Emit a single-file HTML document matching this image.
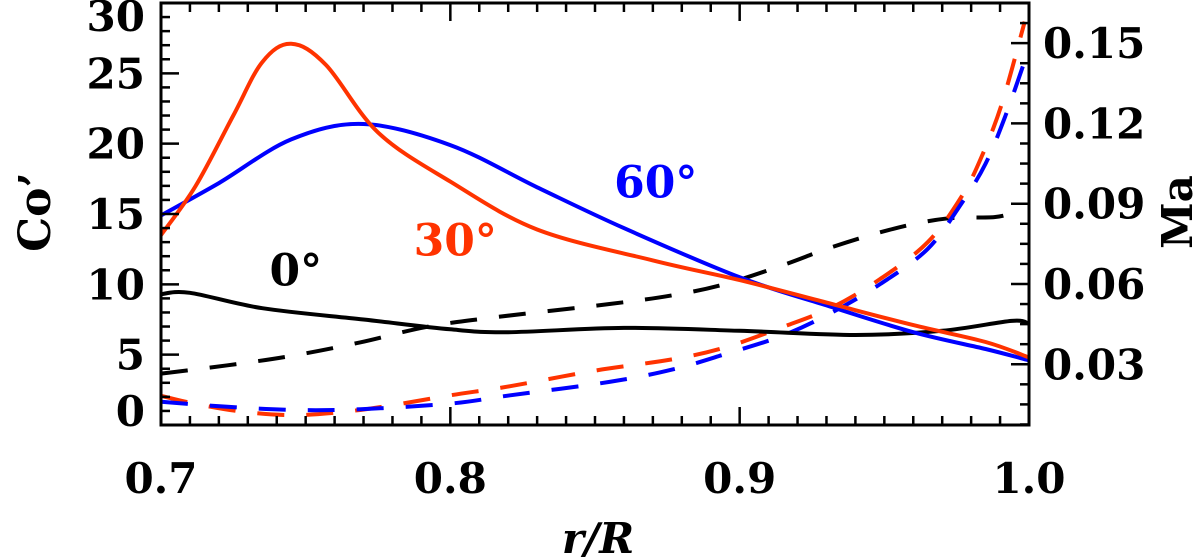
<!DOCTYPE html>
<html><head><meta charset="utf-8"><style>
html,body{margin:0;padding:0;background:#fff;}
svg{display:block;}
text{font-family:"DejaVu Serif","Liberation Serif",serif;font-weight:bold;}
</style></head><body>
<svg id="chart" width="1200" height="560" viewBox="0 0 1200 560"></svg>
<script>
const redSolidR=[0.7,0.712,0.725,0.735,0.745,0.757,0.775,0.8,0.83,0.87,0.9,0.93,0.96,0.985,1.0];
const redSolidV=[13.5,17,22,25.8,27.1,25.6,20.8,17.3,13.9,11.7,10.3,8.7,7.1,5.9,4.8];
const blueSolidR=[0.7,0.72,0.745,0.77,0.8,0.83,0.86,0.9,0.93,0.96,0.985,1.0];
const blueSolidV=[14.9,17.2,20.3,21.4,19.9,16.9,14.0,10.5,8.5,6.6,5.4,4.6];
const blackSolidR=[0.7,0.71,0.735,0.77,0.8,0.82,0.86,0.9,0.94,0.97,0.994,1.0];
const blackSolidV=[9.3,9.4,8.3,7.5,6.8,6.6,6.9,6.7,6.4,6.7,7.4,7.2];
const blackDashR=[0.7,0.723,0.746,0.769,0.792,0.815,0.855,0.877,0.895,0.9146,0.932,0.953,0.971,0.988,0.994];
const blackDashM=[0.0265,0.0296,0.0333,0.0382,0.044,0.0475,0.0525,0.0558,0.06,0.0669,0.0738,0.0806,0.0844,0.085,0.0865];
const redDashR=[0.7,0.7115,0.7287,0.746,0.763,0.78,0.8,0.8207,0.8494,0.877,0.895,0.9146,0.932,0.9486,0.965,0.9766,0.9838,0.9908,0.9985];
const redDashM=[0.0182,0.0153,0.0122,0.011,0.0122,0.0147,0.0184,0.0218,0.0275,0.0319,0.0363,0.0438,0.0513,0.0619,0.0756,0.0925,0.108,0.128,0.158];
const blueDashR=[0.7,0.723,0.746,0.769,0.8,0.8207,0.855,0.877,0.895,0.9146,0.932,0.9486,0.965,0.9766,0.985,0.992,1.0];
const blueDashM=[0.016,0.0141,0.0129,0.0132,0.0153,0.0184,0.0234,0.0281,0.0338,0.0406,0.0494,0.06,0.0731,0.09,0.105,0.1233,0.148];
const xTicks=[0.7,0.8,0.9,1.0];
const xTickLabels=["0.7","0.8","0.9","1.0"];
const yLeftTicks=[0,5,10,15,20,25,30];
const yRightTicks=[0.03,0.06,0.09,0.12,0.15];
const yRightLabels=["0.03","0.06","0.09","0.12","0.15"];

const L=161,R=1029,T=3,B=425;
const X0=0.7,X1=1.0,YL0=0,YL1=30,YR0=0.0073,YR1=0.165;
const sx=v=>L+(v-X0)/(X1-X0)*(R-L);
const syL=v=>B-(v-YL0)/(YL1-YL0)*(B-T);
const syR=v=>B-(v-YR0)/(YR1-YR0)*(B-T);
const svg=document.getElementById('chart');
const NS='http://www.w3.org/2000/svg';
function mk(tag,attrs,parent){const e=document.createElementNS(NS,tag);for(const k in attrs)e.setAttribute(k,attrs[k]);(parent||svg).appendChild(e);return e;}
function pathFrom(xs,ys){
  const p=xs.map((x,i)=>[x,ys[i]]);
  let d='M'+p[0][0].toFixed(1)+','+p[0][1].toFixed(1);
  for(let i=0;i<p.length-1;i++){
    const p0=p[i-1]||p[i],p1=p[i],p2=p[i+1],p3=p[i+2]||p[i+1];
    const c1=[p1[0]+(p2[0]-p0[0])/6,p1[1]+(p2[1]-p0[1])/6];
    const c2=[p2[0]-(p3[0]-p1[0])/6,p2[1]-(p3[1]-p1[1])/6];
    d+=' C'+c1.map(v=>v.toFixed(1)).join(',')+' '+c2.map(v=>v.toFixed(1)).join(',')+' '+p2[0].toFixed(1)+','+p2[1].toFixed(1);
  }
  return d;
}
const clip=mk('clipPath',{id:'pc'});mk('rect',{x:L,y:T,width:R-L,height:B-T},clip);
const g=mk('g',{'clip-path':'url(#pc)'});
function series(xs,ys,ysc,color,dashed,name){
  const e=mk('path',{d:pathFrom(xs.map(sx),ys.map(ysc)),fill:'none',stroke:color,'stroke-width':4,'stroke-dasharray':dashed?'27 22':'none'},g);
  
  
}
series(blackDashR,blackDashM,syR,'#000',true,'ma-0deg-dashed');
series(redDashR,redDashM,syR,'#ff3300',true,'ma-30deg-dashed');
series(blueDashR,blueDashM,syR,'#0000ff',true,'ma-60deg-dashed');
series(blackSolidR,blackSolidV,syL,'#000',false,'co-0deg-line');
series(blueSolidR,blueSolidV,syL,'#0000ff',false,'co-60deg-line');
series(redSolidR,redSolidV,syL,'#ff3300',false,'co-30deg-line');

const fr=mk('rect',{x:L,y:T,width:R-L,height:B-T,fill:'none',stroke:'#000','stroke-width':3});


for(let i=0;i<=30;i++){
  const v=0.7+i*0.01,x=sx(v),len=(i%10===0)?18:9;
  mk('line',{x1:x,y1:B,x2:x,y2:B-len,stroke:'#000','stroke-width':2.5});
  mk('line',{x1:x,y1:T,x2:x,y2:T+len,stroke:'#000','stroke-width':2.5});
}
xTicks.forEach((v,i)=>{
  const t=mk('text',{x:sx(v),y:493,'font-size':42,'text-anchor':'middle'});t.textContent=xTickLabels[i];
  
  
});
for(let v=0;v<=30;v++){
  const y=syL(v),len=(v%5===0)?18:9;
  mk('line',{x1:L,y1:y,x2:L+len,y2:y,stroke:'#000','stroke-width':2.5});
}
yLeftTicks.forEach(v=>{
  let y=syL(v)+15; if(v===30)y+=13; if(v===0)y-=14;
  const t=mk('text',{x:145,y:y,'font-size':42,'text-anchor':'end'});t.textContent=String(v);
  
  
});
for(let v=0.0075;v<=0.165;v+=0.0075){
  const y=syR(v),maj=Math.abs(v/0.03-Math.round(v/0.03))<0.01,len=maj?18:9;
  mk('line',{x1:R,y1:y,x2:R-len,y2:y,stroke:'#000','stroke-width':2.5});
}
yRightTicks.forEach((v,i)=>{
  const t=mk('text',{x:1043,y:syR(v)+15,'font-size':42,'text-anchor':'start'});t.textContent=yRightLabels[i];
  
  
});
let t=mk('text',{x:598,y:553,'font-size':42,'text-anchor':'middle','font-style':'italic'});t.textContent='r/R';


t=mk('text',{x:0,y:0,'font-size':44,'text-anchor':'middle',transform:'translate(50,212) rotate(-90)'});t.textContent='Co’';


t=mk('text',{x:0,y:0,'font-size':42,'text-anchor':'middle',transform:'translate(1192,212) rotate(-90)'});t.textContent='Ma';


function lab(txt,r,v,color,name){
  const e=mk('text',{x:sx(r),y:syL(v)+16,'font-size':44,'text-anchor':'middle',fill:color,'font-family':'Liberation Sans, sans-serif','font-weight':'bold'});
  e.textContent=txt;
  
  
}
lab('0°',0.7466,11.06,'#000','label-0deg');
lab('30°',0.8017,13.2,'#ff3300','label-30deg');
lab('60°',0.871,17.3,'#0000ff','label-60deg');
</script>
</body></html>
